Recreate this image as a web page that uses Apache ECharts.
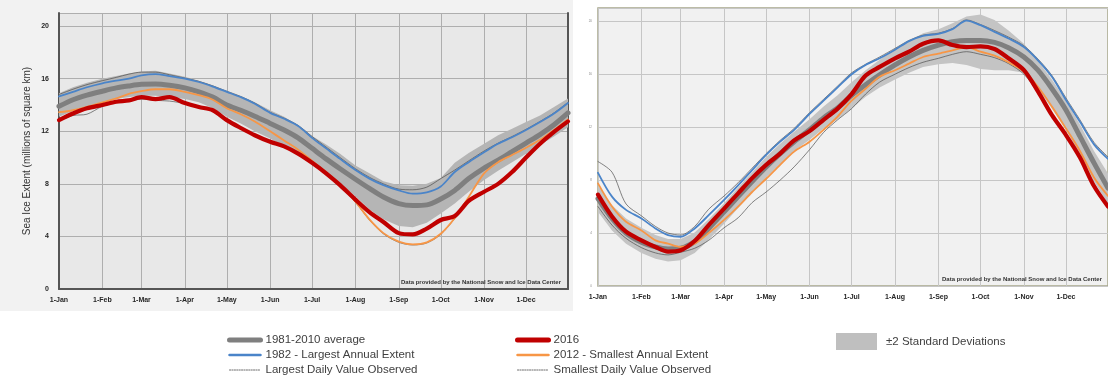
<!DOCTYPE html>
<html>
<head>
<meta charset="utf-8">
<script src="https://cdn.jsdelivr.net/npm/echarts@6/dist/echarts.min.js"></script>
<style>
  html, body { margin: 0; padding: 0; background: #ffffff; }
  #chart { width: 1108px; height: 379px; }
</style>
</head>
<body>
<div id="chart"></div>
<script>
// ---- calendar ----
const monthNames = ['Jan','Feb','Mar','Apr','May','Jun','Jul','Aug','Sep','Oct','Nov','Dec'];
const monthLengths = [31,28,31,30,31,30,31,31,30,31,30,31];
const monthStarts = [0,31,59,90,120,151,181,212,243,273,304,334];

// day of year (0 = 1-Jan) of each reading
const sampleDays = [0,10,20,31,41,50,59,69,79,90,100,110,120,130,140,151,161,171,181,191,201,212,222,232,243,253,263,273,283,293,304,314,324,334,344,354,364];

// ---- Arctic sea ice extent (millions of km²) ----
const arcticAvg = [13.9,14.4,14.75,15.05,15.3,15.45,15.57,15.6,15.5,15.3,15.0,14.6,14.0,13.6,13.15,12.6,12.1,11.5,10.7,9.9,9.15,8.35,7.65,7.0,6.5,6.35,6.4,6.85,7.5,8.4,9.2,9.8,10.45,11.1,11.75,12.5,13.4];
const arctic1982 = [14.65,15.0,15.35,15.65,15.85,16.0,16.25,16.35,16.2,16.0,15.75,15.4,15.0,14.6,14.1,13.4,12.95,12.4,11.5,10.7,9.9,9.05,8.4,7.9,7.5,7.25,7.35,7.8,8.9,9.65,10.4,11.05,11.55,12.1,12.7,13.35,14.15];
const arctic2012 = [13.45,13.6,13.85,14.2,14.5,14.85,15.05,15.2,15.2,15.0,14.75,14.4,13.75,13.3,12.75,12.0,11.3,10.6,9.75,8.9,7.95,6.65,5.3,4.25,3.6,3.4,3.55,4.2,5.4,7.0,8.8,9.65,10.2,10.75,11.35,12.1,12.9];
const arctic2016 = [12.85,13.35,13.75,14.0,14.25,14.35,14.6,14.45,14.6,14.15,13.85,13.6,12.85,12.25,11.7,11.2,10.85,10.3,9.6,8.8,7.9,6.8,5.85,5.1,4.25,4.15,4.6,5.25,5.55,6.7,7.4,8.0,8.9,10.0,11.05,11.95,12.75];
const arcticSdUpper = [14.9,15.35,15.7,16.0,16.2,16.4,16.55,16.6,16.4,16.15,15.85,15.5,15.05,14.65,14.2,13.6,13.1,12.45,11.65,11.0,10.3,9.4,8.8,8.2,7.9,7.85,8.0,8.45,9.6,10.35,11.05,11.7,12.2,12.7,13.2,13.85,14.5];
const arcticSdLower = [13.1,13.55,13.85,14.2,14.45,14.6,14.7,14.7,14.6,14.45,14.2,13.75,13.1,12.6,12.0,11.45,10.85,10.3,9.75,8.9,8.05,7.05,6.05,5.3,4.8,4.7,5.05,5.75,6.5,7.4,8.3,9.0,9.65,10.3,10.95,11.6,12.3];
const arcticLargestDaily = [14.8,15.2,15.55,15.85,16.1,16.35,16.5,16.5,16.3,16.05,15.8,15.45,15.05,14.65,14.15,13.45,13.0,12.45,11.6,10.8,10.0,9.15,8.5,8.0,7.6,7.55,7.75,8.4,9.05,9.75,10.5,11.1,11.6,12.15,12.75,13.4,14.2];
const arcticSmallestDaily = [12.8,13.2,13.3,13.9,14.2,14.3,14.45,14.35,14.3,14.1,13.8,13.55,12.8,12.2,11.65,11.15,10.8,10.25,9.55,8.75,7.85,6.6,5.25,4.2,3.55,3.35,3.5,4.15,5.35,6.65,7.35,7.95,8.85,9.95,11.0,11.9,12.7];

// ---- Antarctic sea ice extent (millions of km²) ----
const antarcticAvg = [6.6,5.1,4.0,3.3,2.95,2.8,2.85,3.35,4.35,5.6,6.75,7.9,9.0,10.0,10.9,11.8,12.7,13.45,14.4,15.2,15.95,16.7,17.3,17.8,18.2,18.45,18.55,18.55,18.4,18.0,17.3,16.3,14.9,13.3,11.3,9.3,7.4];
const antarctic1982 = [8.55,6.75,5.75,5.1,4.35,3.85,3.72,4.35,5.35,6.5,7.6,8.75,9.9,10.9,11.8,13.0,14.0,15.0,16.0,16.7,17.2,17.85,18.5,18.9,19.05,19.4,20.05,19.7,19.2,18.7,18.05,17.05,15.8,14.05,12.4,10.7,9.6];
const antarctic2012 = [7.75,6.0,4.85,4.2,3.45,3.2,2.95,3.2,4.0,5.0,6.0,7.1,8.1,9.15,10.15,10.9,11.8,12.8,14.0,14.9,15.8,16.3,16.8,17.3,17.55,17.8,18.05,17.7,17.4,16.9,16.2,15.05,13.55,11.9,10.2,8.2,6.8];
const antarctic2016 = [6.9,5.25,4.1,3.45,2.95,2.6,2.7,3.4,4.6,5.85,7.0,8.15,9.15,10.0,11.0,11.7,12.55,13.4,14.5,15.9,16.55,17.2,17.7,18.3,18.55,18.2,18.05,18.1,17.9,17.2,16.3,14.7,12.9,11.4,9.7,7.55,6.0];
const antarcticSdUpper = [7.6,6.1,5.1,4.4,3.85,3.55,3.55,4.05,5.05,6.25,7.45,8.6,9.75,10.75,11.65,12.6,13.55,14.4,15.4,16.3,17.1,17.95,18.5,19.1,19.4,19.85,20.35,20.5,20.1,19.3,18.3,17.0,15.6,14.0,12.2,10.2,8.5];
const antarcticSdLower = [5.6,4.2,3.2,2.5,2.05,1.85,1.95,2.5,3.5,4.7,5.9,7.05,8.2,9.2,10.2,11.05,11.9,12.6,13.4,14.3,15.0,15.6,16.1,16.55,16.75,16.85,16.7,16.4,16.3,16.3,16.1,14.9,13.4,11.8,9.9,7.9,6.2];
const antarcticLargestDaily = [9.4,8.6,6.2,5.3,4.5,4.0,3.85,4.5,5.8,6.8,7.8,8.9,10.0,11.0,11.9,13.1,14.1,15.1,16.1,16.75,17.3,17.95,18.55,18.95,19.1,19.45,20.1,19.75,19.3,18.8,18.15,17.15,15.9,14.2,12.55,10.85,9.75];
const antarcticSmallestDaily = [6.0,4.6,3.6,2.9,2.5,2.35,2.55,2.85,3.45,4.4,5.15,6.3,7.1,8.0,9.0,10.3,11.6,12.55,13.4,14.5,15.4,16.0,16.5,16.9,17.2,17.5,17.7,17.5,17.25,16.8,16.0,14.6,12.8,11.3,9.6,7.5,5.95];

// ---- axis and legend text ----
const yTitle = 'Sea Ice Extent (millions of square km)';
const creditText = 'Data provided by the National Snow and Ice Data Center';
const names = {
  avg: '1981-2010 average',
  largestYear: '1982 - Largest Annual Extent',
  largestDaily: 'Largest Daily Value Observed',
  current: '2016',
  smallestYear: '2012 - Smallest Annual Extent',
  smallestDaily: 'Smallest Daily Value Observed',
  sd: '\u00b12 Standard Deviations'
};

// one category per calendar day, labelled like "1-Jan"
const dayLabels = [];
monthNames.forEach((m, i) => {
  for (let d = 1; d <= monthLengths[i]; d++) dayLabels.push(d + '-' + m);
});
const monthStartSet = new Set(monthStarts);
const isMonthStart = (idx) => monthStartSet.has(idx);

const COLORS = {
  avg: '#7f7f7f',
  blue: '#4a84c9',
  orange: '#f79646',
  red: '#c00000',
  thin: '#4a4a4a'
};

const pairs = (arr) => sampleDays.map((d, i) => [d, arr[i]]);

function lineSeries(name, arr, axisIdx, yIdx, style, z) {
  return {
    type: 'line', name: name, xAxisIndex: axisIdx, yAxisIndex: yIdx,
    data: pairs(arr), symbol: 'none', smooth: 0.3, silent: true, z: z,
    lineStyle: Object.assign({ cap: 'round', join: 'round' }, style)
  };
}

// shaded ±2 SD envelope: upper edge left to right, lower edge back again
function bandSeries(lower, upper, axisIdx, yIdx, fill) {
  return {
    type: 'custom', name: names.sd, xAxisIndex: axisIdx, yAxisIndex: yIdx,
    silent: true, z: 1, itemStyle: { color: '#bfbfbf' },
    data: sampleDays.map((d, i) => [d, lower[i], upper[i]]),
    encode: { x: 0, y: [1, 2] },
    renderItem: function (params, api) {
      if (params.dataIndex !== 0) return null;
      const pts = [];
      sampleDays.forEach((d, i) => pts.push(api.coord([d, upper[i]])));
      for (let i = sampleDays.length - 1; i >= 0; i--) pts.push(api.coord([sampleDays[i], lower[i]]));
      return { type: 'polygon', shape: { points: pts, smooth: 0 }, style: { fill: fill } };
    }
  };
}

function panelSeries(axisIdx, yIdx, d, bandFill) {
  return [
    bandSeries(d.lower, d.upper, axisIdx, yIdx, bandFill),
    lineSeries(names.largestDaily, d.largestDaily, axisIdx, yIdx, { width: 0.8, color: COLORS.thin, opacity: 0.85 }, 2),
    lineSeries(names.smallestDaily, d.smallestDaily, axisIdx, yIdx, { width: 0.8, color: COLORS.thin, opacity: 0.85 }, 2),
    lineSeries(names.avg, d.avg, axisIdx, yIdx, { width: 5, color: COLORS.avg }, 3),
    lineSeries(names.largestYear, d.y1982, axisIdx, yIdx, { width: 1.8, color: COLORS.blue }, 4),
    lineSeries(names.smallestYear, d.y2012, axisIdx, yIdx, { width: 1.8, color: COLORS.orange }, 5),
    lineSeries(names.current, d.y2016, axisIdx, yIdx, { width: 4.2, color: COLORS.red }, 6)
  ];
}

const tickFont = { fontFamily: 'Liberation Sans', fontSize: 7, fontWeight: 'bold', color: '#262626' };

function xAxisFor(gridIndex, lineStyle) {
  return {
    type: 'category', gridIndex: gridIndex, data: dayLabels, boundaryGap: false,
    axisLine: lineStyle ? { show: true, lineStyle: lineStyle } : { show: false },
    axisTick: { show: false },
    axisLabel: Object.assign({ interval: isMonthStart, margin: 8 }, tickFont),
    splitLine: { show: true, interval: isMonthStart, lineStyle: { color: gridIndex === 0 ? '#aeaeae' : '#c6c6c6', width: 1 } }
  };
}

const legendText = { fontFamily: 'Liberation Sans', fontSize: 11.5, color: '#404040', lineHeight: 12 };

const chart = echarts.init(document.getElementById('chart'), null, { renderer: 'canvas' });

const option = {
  animation: false,
  backgroundColor: 'transparent',
  graphic: [
    { type: 'rect', z: -100, shape: { x: 0, y: 0, width: 573, height: 311 }, style: { fill: '#f2f2f2' } },
    { type: 'text', z: 50, x: 561, y: 282, style: { text: creditText, align: 'right', verticalAlign: 'middle', fontFamily: 'Liberation Sans', fontSize: 6, fontWeight: 'bold', fill: '#333333' } },
    { type: 'text', z: 50, x: 1102, y: 279, style: { text: creditText, align: 'right', verticalAlign: 'middle', fontFamily: 'Liberation Sans', fontSize: 6, fontWeight: 'bold', fill: '#333333' } }
  ],
  grid: [
    { left: 59, top: 13, width: 509, height: 276, show: true, backgroundColor: '#e8e8e8', borderWidth: 0 },
    { left: 598, top: 8, width: 511, height: 278, show: true, backgroundColor: '#f1f1f1', borderColor: '#a7a78b', borderWidth: 1.5 }
  ],
  xAxis: [
    xAxisFor(0, { color: '#555555', width: 2 }),
    xAxisFor(1, null)
  ],
  yAxis: [
    {
      type: 'value', gridIndex: 0, min: 0, max: 21, interval: 4,
      name: yTitle, nameLocation: 'middle', nameGap: 27,
      nameTextStyle: { fontFamily: 'Liberation Sans', fontSize: 10, color: '#333333' },
      axisLine: { show: true, lineStyle: { color: '#555555', width: 2 } },
      axisTick: { show: false },
      axisLabel: Object.assign({ margin: 10, showMaxLabel: false }, tickFont),
      splitLine: { show: true, lineStyle: { color: '#aeaeae', width: 1 } }
    },
    {
      type: 'value', gridIndex: 0, position: 'right', min: 0, max: 21,
      axisLine: { show: true, lineStyle: { color: '#555555', width: 2 } },
      axisTick: { show: false }, axisLabel: { show: false }, splitLine: { show: false }
    },
    {
      type: 'value', gridIndex: 1, min: 0, max: 21, interval: 4,
      axisLine: { show: false }, axisTick: { show: false },
      axisLabel: { margin: 6, showMaxLabel: false, fontFamily: 'Liberation Sans', fontSize: 3, color: '#888888' },
      splitLine: { show: true, lineStyle: { color: '#c6c6c6', width: 1 } }
    }
  ],
  legend: [
    {
      left: 227, top: 334, height: 45, padding: 0, orient: 'vertical', selectedMode: false,
      itemWidth: 31, itemHeight: 8, itemGap: 3, textStyle: legendText,
      data: [
        { name: names.avg, itemStyle: { opacity: 0 }, lineStyle: { width: 5, color: COLORS.avg, cap: 'round' } },
        { name: names.largestYear, itemStyle: { opacity: 0 }, lineStyle: { width: 2.5, color: COLORS.blue, cap: 'round' } },
        { name: names.largestDaily, itemStyle: { opacity: 0 }, lineStyle: { width: 1, color: '#555555', type: [1.2, 1.2] } }
      ]
    },
    {
      left: 515, top: 334, height: 45, padding: 0, orient: 'vertical', selectedMode: false,
      itemWidth: 31, itemHeight: 8, itemGap: 3, textStyle: legendText,
      data: [
        { name: names.current, itemStyle: { opacity: 0 }, lineStyle: { width: 5, color: COLORS.red, cap: 'round' } },
        { name: names.smallestYear, itemStyle: { opacity: 0 }, lineStyle: { width: 2.5, color: COLORS.orange, cap: 'round' } },
        { name: names.smallestDaily, itemStyle: { opacity: 0 }, lineStyle: { width: 1, color: '#555555', type: [1.2, 1.2] } }
      ]
    },
    {
      left: 836, top: 333, padding: 0, orient: 'vertical', selectedMode: false,
      itemWidth: 41, itemHeight: 17,
      textStyle: { fontFamily: 'Liberation Sans', fontSize: 11.5, color: '#404040', padding: [0, 0, 0, 4] },
      data: [{ name: names.sd, icon: 'rect', itemStyle: { color: '#bfbfbf' } }]
    }
  ],
  series: [].concat(
    panelSeries(0, 0, {
      lower: arcticSdLower, upper: arcticSdUpper, avg: arcticAvg, y1982: arctic1982,
      y2012: arctic2012, y2016: arctic2016, largestDaily: arcticLargestDaily, smallestDaily: arcticSmallestDaily
    }, '#b5b5b5'),
    panelSeries(1, 2, {
      lower: antarcticSdLower, upper: antarcticSdUpper, avg: antarcticAvg, y1982: antarctic1982,
      y2012: antarctic2012, y2016: antarctic2016, largestDaily: antarcticLargestDaily, smallestDaily: antarcticSmallestDaily
    }, '#c4c4c4')
  )
};

chart.setOption(option);
</script>
</body>
</html>
